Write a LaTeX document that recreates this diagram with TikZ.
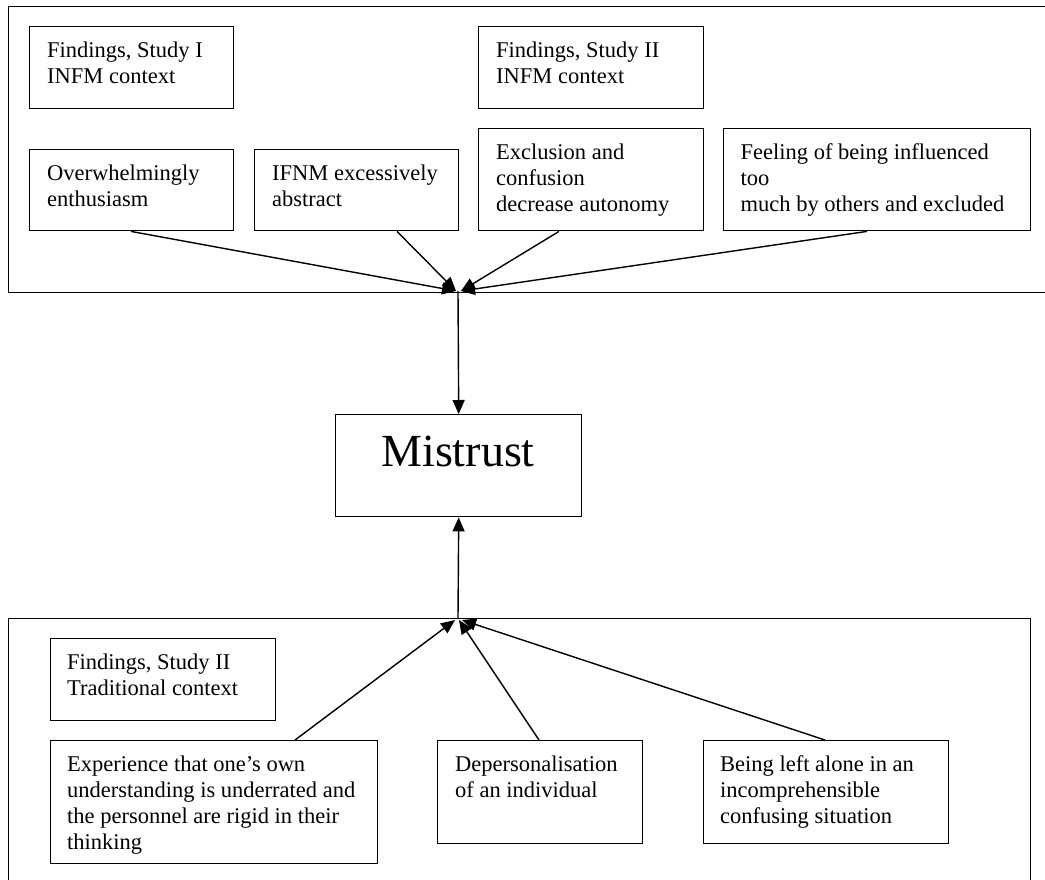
\documentclass[tikz,border=0pt]{standalone}
\usepackage{fontspec}
\setmainfont{Liberation Serif}
\usetikzlibrary{arrows.meta,calc}
\tikzset{
  frame/.style={draw, line width=1.4pt, inner sep=0pt, anchor=north west},
  tbox/.style={draw, line width=1.4pt, inner sep=0pt, anchor=north west},
  txt/.style={inner sep=0pt, anchor=north west, align=left, font=\fontsize{22.5}{26}\selectfont},
  bigtxt/.style={inner sep=0pt, anchor=base, font=\fontsize{46}{52}\selectfont},
  arr/.style={line width=1.4pt, -{Triangle[length=14pt,width=12pt]}}
}
\begin{document}
\begin{tikzpicture}[x=1pt,y=-1pt]
\useasboundingbox (0,0) rectangle (1045,879);
\fill[white] (0,0) rectangle (1045,879);
\clip (0,0) rectangle (1045,879);
% frames
\node[frame, minimum width=1050pt, minimum height=286pt] (topframe) at (8,6) {};
\node[frame, minimum width=1022pt, minimum height=300pt] (botframe) at (8,618) {};
% top boxes
\node[tbox, minimum width=204pt, minimum height=82pt] (f1) at (29,26) {};
\node[txt] (f1t) at ($(f1.north west)+(18,12.8)$) {\strut Findings, Study I\\INFM context};
\node[tbox, minimum width=225pt, minimum height=82pt] (f2) at (478,26) {};
\node[txt] (f2t) at ($(f2.north west)+(18,12.8)$) {\strut Findings, Study II\\INFM context};
\node[tbox, minimum width=204pt, minimum height=81pt] (ovw) at (29,149) {};
\node[txt] (ovwt) at ($(ovw.north west)+(18,12.8)$) {\strut Overwhelmingly\\enthusiasm};
\node[tbox, minimum width=204pt, minimum height=81pt] (ifnm) at (254,149) {};
\node[txt] (ifnmt) at ($(ifnm.north west)+(18,12.8)$) {\strut IFNM excessively\\abstract};
\node[tbox, minimum width=225pt, minimum height=102pt] (excl) at (478,128) {};
\node[txt] (exclt) at ($(excl.north west)+(18,12.8)$) {\strut Exclusion and\\confusion\\decrease autonomy};
\node[tbox, minimum width=307pt, minimum height=102pt] (feel) at (723,128) {};
\node[txt] (feelt) at ($(feel.north west)+(17.5,12.8)$) {\strut Feeling of being influenced\\too\\much by others and excluded};
% Mistrust
\node[tbox, minimum width=246pt, minimum height=102pt] (mis) at (335,414) {};
\node[bigtxt] (mist) at (458,466) {Mistrust};
% bottom boxes
\node[tbox, minimum width=225pt, minimum height=82pt] (f3) at (50,638) {};
\node[txt] (f3t) at ($(f3.north west)+(17,12.8)$) {\strut Findings, Study II\\Traditional context};
\node[tbox, minimum width=327pt, minimum height=123pt] (exp) at (50,740) {};
\node[txt] (expt) at ($(exp.north west)+(17,12.8)$) {\strut Experience that one’s own\\understanding is underrated and\\the personnel are rigid in their\\thinking};
\node[tbox, minimum width=205pt, minimum height=103pt] (dep) at (437,740) {};
\node[txt] (dept) at ($(dep.north west)+(18,12.8)$) {\strut Depersonalisation\\of an individual};
\node[tbox, minimum width=245pt, minimum height=103pt] (bla) at (703,740) {};
\node[txt] (blat) at ($(bla.north west)+(17,12.8)$) {\strut Being left alone in an\\incomprehensible\\confusing situation};
% convergence points
\coordinate (cL) at (456,291);
\coordinate (cR) at (461,291);
\coordinate (ctop) at (458,291);
\coordinate (bL) at (455,620);
\coordinate (bM) at (459,620);
\coordinate (bR) at (462,620);
\coordinate (cbot) at (458,618);
% connectors
\draw[arr] ($(ovw.south west)+(102,0)$) -- (cL);
\draw[arr] ($(ifnm.south west)+(143,0)$) -- (cL);
\draw[arr] ($(excl.south west)+(81,0)$) -- (cR);
\draw[arr] ($(feel.south west)+(144,0)$) -- (cR);
\draw[arr] (ctop) -- (mis.north);
\draw[arr] (cbot) -- (mis.south);
\draw[arr] ($(exp.north west)+(245,0)$) -- (bL);
\draw[arr] ($(dep.north west)+(102,0)$) -- (bM);
\draw[arr] ($(bla.north west)+(122,0)$) -- (bR);
\end{tikzpicture}
\end{document}
